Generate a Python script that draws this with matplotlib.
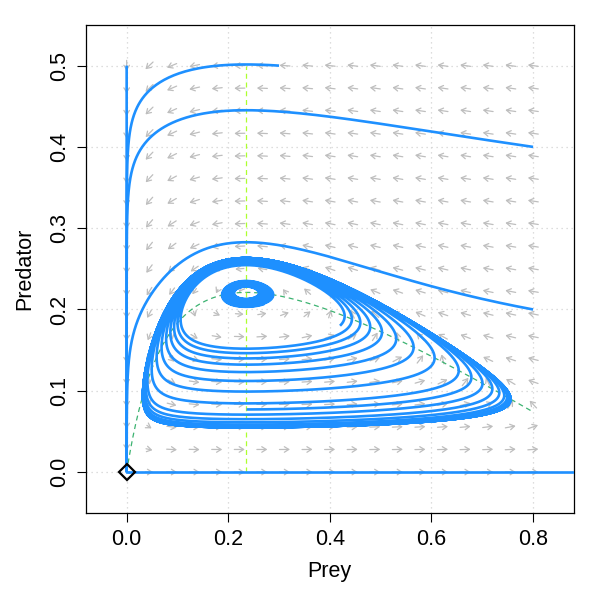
import numpy as np
import matplotlib
matplotlib.use("Agg")
import matplotlib.pyplot as plt

# ---- model: prey with weak Allee effect, predator grows above prey level xs ----
r = 1.0       # prey growth
s = 0.1055    # Allee half-saturation
a = 2.389     # predation rate
b = 0.25      # predator conversion
xs = 0.235    # prey level where predator is stationary

# initial states (prey, predator) and run lengths
starts_x = [0.0, 0.3, 0.8, 0.8, 0.003, 0.26, 0.42, 0.236]
starts_y = [0.5, 0.5, 0.4, 0.2, 0.0, 0.221, 0.18, 0.077]
run_time = [200, 300, 300, 600, 300, 1000, 800, 600]

# vector field grid
grid_x = np.linspace(0, 0.8, 19)
grid_y = np.linspace(0, 0.5, 19)

xticks = [0.0, 0.2, 0.4, 0.6, 0.8]
yticks = [0.0, 0.1, 0.2, 0.3, 0.4, 0.5]


def deriv(x, y):
    return r * x * (1 - x) * x / (s + x) - a * x * y, b * y * (x - xs)


def run(x, y, T, dt=0.05):
    xs_, ys_ = [x], [y]
    for _ in range(int(T / dt)):
        k1 = deriv(x, y)
        k2 = deriv(x + dt / 2 * k1[0], y + dt / 2 * k1[1])
        k3 = deriv(x + dt / 2 * k2[0], y + dt / 2 * k2[1])
        k4 = deriv(x + dt * k3[0], y + dt * k3[1])
        x = x + dt / 6 * (k1[0] + 2 * k2[0] + 2 * k3[0] + k4[0])
        y = y + dt / 6 * (k1[1] + 2 * k2[1] + 2 * k3[1] + k4[1])
        xs_.append(x)
        ys_.append(y)
    return np.array(xs_), np.array(ys_)


plt.rcParams['font.family'] = ['Liberation Sans', 'DejaVu Sans']
fig = plt.figure(figsize=(5.99, 5.99), dpi=100)
ax = fig.add_axes([0.1436, 0.1441, 0.8142, 0.8142])
ax.set_xlim(-0.08, 0.88)
ax.set_ylim(-0.05, 0.55)

# grid
for v in xticks:
    ax.axvline(v, color='#d3d3d3', ls=(0, (1, 3)), lw=0.9, zorder=0)
for v in yticks:
    ax.axhline(v, color='#d3d3d3', ls=(0, (1, 3)), lw=0.9, zorder=0)

# vector field: direction in grid units, length saturating with speed
px_x = 508.0   # pixels per data unit
px_y = 812.0
stepx = grid_x[1] - grid_x[0]
stepy = grid_y[1] - grid_y[0]
L = 10.5
tau = 0.3
for gx in grid_x:
    for gy in grid_y:
        dx, dy = deriv(gx, gy)
        u, v = dx / stepx, dy / stepy
        w = np.hypot(u, v)
        if w < 1e-9:
            continue
        ln = L * np.tanh(w / tau)
        ux = ln * u / w / px_x
        uy = ln * v / w / px_y
        ax.annotate('', xy=(gx + ux / 2, gy + uy / 2), xytext=(gx - ux / 2, gy - uy / 2),
                    arrowprops=dict(arrowstyle='->,head_length=0.4,head_width=0.25', color='#bebebe',
                                    lw=0.9, shrinkA=0, shrinkB=0, mutation_scale=8),
                    zorder=1)

# nullclines
nx = np.linspace(0, 0.8, 400)
ax.plot(nx, r * nx * (1 - nx) / (a * (s + nx)), color='#3cb371', ls=(0, (4, 3)), lw=0.9, zorder=2)
ax.plot([xs, xs], [0, 0.5], color='#adff2f', ls=(0, (4, 3)), lw=0.9, zorder=2)

# trajectories
for x0, y0, T in zip(starts_x, starts_y, run_time):
    tx, ty = run(x0, y0, T)
    ax.plot(tx, ty, color='#1e90ff', lw=1.9, zorder=3, solid_capstyle='butt')
# prey-only run drawn from the origin
ax.plot([0, starts_x[4]], [0, 0], color='#1e90ff', lw=1.9, zorder=3)

# steady state at origin
ax.plot([0], [0], marker='D', ms=8.5, mfc='none', mec='black', mew=1.6, zorder=5, clip_on=False)

ax.set_xticks(xticks)
ax.set_xticklabels(['%.1f' % v for v in xticks])
ax.set_yticks(yticks)
ax.set_yticklabels(['%.1f' % v for v in yticks], rotation=90, va='center')
ax.tick_params(length=6.5, width=0.8, labelsize=15.5, pad=5)
for sp in ax.spines.values():
    sp.set_linewidth(0.9)

fig.text(329.8 / 599, 1 - 572 / 599, 'Prey', ha='center', va='center', fontsize=15.5)
fig.text(25 / 599, 1 - 269 / 599, 'Predator', ha='center', va='center', rotation=90, fontsize=15.5)

fig.savefig('out.png', dpi=100)
